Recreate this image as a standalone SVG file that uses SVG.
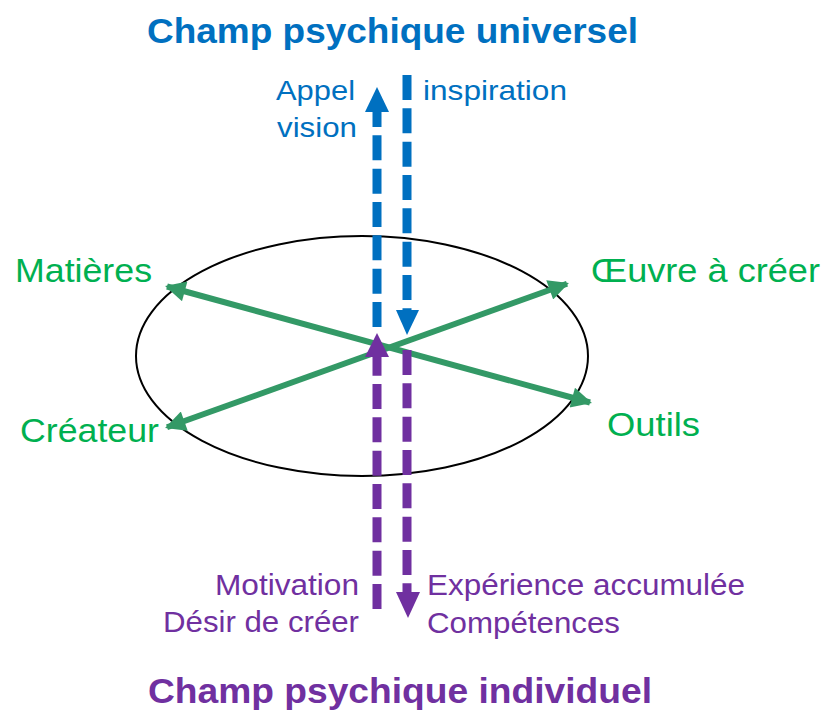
<svg xmlns="http://www.w3.org/2000/svg" width="823" height="711" viewBox="0 0 823 711">
<style>
text { font-family: "Liberation Sans", Arial, sans-serif; }
.title { font-size: 35px; font-weight: bold; }
.blue { fill: #0070C0; }
.green { fill: #00B050; font-size: 33px; }
.purple { fill: #7030A0; }
.lb { font-size: 28px; }
.lp { font-size: 29px; }
.dashB { stroke: #0070C0; stroke-width: 9; fill: none; stroke-dasharray: 25 8.33; }
.dashP { stroke: #7030A0; stroke-width: 9; fill: none; stroke-dasharray: 25 8.33; }
.gline { stroke: #339966; stroke-width: 6; fill: none; marker-start: url(#ga); marker-end: url(#ga); }
</style>
<defs>
<marker id="ga" viewBox="0 0 10 10" refX="9" refY="5" markerWidth="4" markerHeight="3.4" markerUnits="strokeWidth" orient="auto-start-reverse">
<path d="M0,0 L10,5 L0,10 Z" fill="#339966"/>
</marker>
</defs>
<rect width="823" height="711" fill="#ffffff"/>

<g id="ellipse">
<ellipse cx="362" cy="356" rx="226" ry="120" fill="none" stroke="#000" stroke-width="2"/>
</g>

<g id="connectors">
<path class="gline" d="M167,286.5 L590,402.5"/>
<path class="gline" d="M167,427.3 L567,283.7"/>
<!-- blue up -->
<path class="dashB" d="M377,327 L377,110"/>
<path d="M365,112 L377,87 L389,112 Z" fill="#0070C0"/>
<!-- blue down -->
<path class="dashB" d="M407,75 L407,312"/>
<path d="M396,310 L407,335 L419,310 Z" fill="#0070C0"/>
<!-- purple up -->
<path class="dashP" d="M377,609 L377,355"/>
<path d="M365,357 L377,333 L389,357 Z" fill="#7030A0"/>
<!-- purple down -->
<path class="dashP" d="M407,350 L407,594"/>
<path d="M396,592 L408,618 L420,592 Z" fill="#7030A0"/>
</g>

<g id="title-top">
<text class="title blue" x="147" y="42.5" textLength="491" lengthAdjust="spacingAndGlyphs">Champ psychique universel</text>
</g>
<g id="label-appel">
<text class="blue lb" x="276" y="100" textLength="79" lengthAdjust="spacingAndGlyphs">Appel</text>
<text class="blue lb" x="277" y="137" textLength="80" lengthAdjust="spacingAndGlyphs">vision</text>
</g>
<g id="label-inspiration">
<text class="blue lb" x="423" y="100" textLength="144" lengthAdjust="spacingAndGlyphs">inspiration</text>
</g>
<g id="node-matieres">
<text class="green" x="15" y="281.7" textLength="137" lengthAdjust="spacingAndGlyphs">Matières</text>
</g>
<g id="node-oeuvre">
<text class="green" x="591" y="282" textLength="229" lengthAdjust="spacingAndGlyphs">Œuvre à créer</text>
</g>
<g id="node-createur">
<text class="green" x="20" y="441.7" textLength="139" lengthAdjust="spacingAndGlyphs">Créateur</text>
</g>
<g id="node-outils">
<text class="green" x="607" y="436" textLength="93" lengthAdjust="spacingAndGlyphs">Outils</text>
</g>
<g id="label-motivation">
<text class="purple lp" x="215" y="595" textLength="144" lengthAdjust="spacingAndGlyphs">Motivation</text>
<text class="purple lp" x="163" y="631.7" textLength="196" lengthAdjust="spacingAndGlyphs">Désir de créer</text>
</g>
<g id="label-experience">
<text class="purple lp" x="427" y="595" textLength="318" lengthAdjust="spacingAndGlyphs">Expérience accumulée</text>
<text class="purple lp" x="427" y="632.7" textLength="193" lengthAdjust="spacingAndGlyphs">Compétences</text>
</g>
<g id="title-bottom">
<text class="title purple" x="148" y="703" textLength="504" lengthAdjust="spacingAndGlyphs">Champ psychique individuel</text>
</g>
</svg>
